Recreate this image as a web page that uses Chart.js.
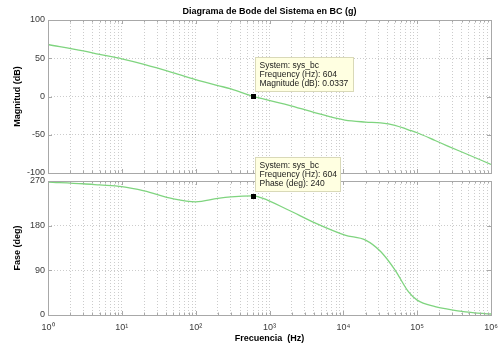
<!DOCTYPE html>
<html>
<head>
<meta charset="utf-8">
<script src="https://cdn.jsdelivr.net/npm/chart.js@4/dist/chart.umd.min.js"></script>
<style>
  html, body { margin: 0; padding: 0; background: #ffffff; }
  #wrap { position: relative; width: 498px; height: 347px; overflow: hidden; }
  #magCanvas { position: absolute; left: 0; top: 0; }
  #phaseCanvas { position: absolute; left: 0; top: 150px; }
</style>
</head>
<body>
<div id="wrap">
  <canvas id="magCanvas" width="498" height="180"></canvas>
  <canvas id="phaseCanvas" width="498" height="197"></canvas>
</div>
<script>
// ---- data ----
const freqHz = [1, 3, 5, 10, 20, 50, 100, 200, 300, 604, 800, 1800, 4200, 10500, 20000, 32000, 50000, 76000, 100000, 175000, 260000, 450000, 1000000];
const magnitudeDb = [68, 59.6, 55, 49.2, 42, 31, 22, 14.3, 10, 0.03, -2.8, -11.2, -21.3, -30.9, -33.4, -34.4, -37.6, -43.5, -47.4, -57.5, -64.8, -74.5, -88.7];
const phaseDeg = [268, 264.5, 262, 258.5, 250, 234, 228, 235, 238, 240, 235.5, 211.6, 185, 161, 151, 128, 91, 47, 30, 17, 12, 6.5, 2];

const magTicks = [-100, -50, 0, 50, 100];
const phaseTicks = [0, 90, 180, 270];
const decadeExponents = [0, 1, 2, 3, 4, 5, 6];

const tipFrequency = 604;
const tipMagnitude = 0.0337;
const tipPhase = 240;
const systemName = 'sys_bc';

const titleText = 'Diagrama de Bode del Sistema en BC (g)';
const magLabel = 'Magnitud (dB)';
const phaseLabel = 'Fase (deg)';
const freqLabel = 'Frecuencia  (Hz)';

// ---- helpers ----
const SUP = {'0':'\u2070','1':'\u00B9','2':'\u00B2','3':'\u00B3','4':'\u2074','5':'\u2075','6':'\u2076','-':'\u207B'};
function pow10Label(v) {
  const e = Math.log10(v);
  if (Math.abs(e - Math.round(e)) > 1e-9) return '';
  return '10' + String(Math.round(e)).split('').map(c => SUP[c]).join('');
}
function logTickList() {
  const out = [];
  for (let i = 0; i < decadeExponents.length - 1; i++) {
    const base = Math.pow(10, decadeExponents[i]);
    for (let k = 1; k <= 9; k++) out.push({ value: k * base });
  }
  out.push({ value: Math.pow(10, decadeExponents[decadeExponents.length - 1]) });
  return out;
}

const FONT = '"Liberation Sans", Arial, sans-serif';
const FRAME = '#a8a8a8';
const GRID = 'rgba(0,0,0,0.2)';
const LINE = '#7fd47f';

const framePlugin = {
  id: 'frame',
  afterDraw(chart) {
    const { ctx, chartArea: a, scales } = chart;
    ctx.save();
    ctx.strokeStyle = FRAME;
    ctx.lineWidth = 1;
    ctx.beginPath();
    scales.x.ticks.forEach(t => {
      const px = Math.round(scales.x.getPixelForValue(t.value)) + 0.5;
      const len = pow10Label(t.value) ? 4 : 2.5;
      ctx.moveTo(px, a.top); ctx.lineTo(px, a.top + len);
      ctx.moveTo(px, a.bottom); ctx.lineTo(px, a.bottom - len);
    });
    scales.y.ticks.forEach(t => {
      const py = Math.round(scales.y.getPixelForValue(t.value)) + 0.5;
      ctx.moveTo(a.left, py); ctx.lineTo(a.left + 4, py);
      ctx.moveTo(a.right, py); ctx.lineTo(a.right - 4, py);
    });
    ctx.stroke();
    ctx.strokeRect(Math.round(a.left) + 0.5, Math.round(a.top) + 0.5,
                   Math.round(a.right - a.left), Math.round(a.bottom - a.top));
    ctx.restore();
  }
};

function makeTipPlugin(yValue, lines, boxW) {
  return {
    id: 'datatip',
    afterDraw(chart) {
      const { ctx, scales } = chart;
      const mx = scales.x.getPixelForValue(tipFrequency);
      const my = scales.y.getPixelForValue(yValue);
      ctx.save();
      const bx = Math.round(mx) + 2.5, by = Math.round(my) - 38.5, bh = 34;
      ctx.fillStyle = '#ffffe1';
      ctx.fillRect(bx, by, boxW, bh);
      ctx.strokeStyle = '#d9d9b8';
      ctx.lineWidth = 1;
      ctx.strokeRect(bx, by, boxW, bh);
      ctx.fillStyle = '#1a1a1a';
      ctx.font = '8.5px ' + FONT;
      ctx.textBaseline = 'middle';
      ctx.textAlign = 'left';
      lines.forEach((s, i) => ctx.fillText(s, bx + 4, by + 8.5 + i * 9));
      ctx.fillStyle = '#000';
      ctx.fillRect(Math.round(mx) - 2, Math.round(my) - 2, 5, 5);
      ctx.restore();
    }
  };
}

function xScale(showLabels) {
  return {
    type: 'logarithmic',
    min: 1, max: 1e6,
    afterBuildTicks(scale) { scale.ticks = logTickList(); },
    afterFit(scale) {
      scale.height = showLabels ? 32 : 7;
      scale.paddingLeft = 0; scale.paddingRight = 0;
    },
    grid: { display: true, color: GRID, lineWidth: 1, drawTicks: false },
    border: { display: false, dash: [1, 2] },
    ticks: {
      display: showLabels,
      autoSkip: false, maxRotation: 0, minRotation: 0,
      padding: 7,
      color: '#3a3a3a',
      font: { family: FONT, size: 9 },
      callback: (v) => pow10Label(v)
    },
    title: showLabels ? {
      display: true, text: freqLabel, color: '#000',
      font: { family: FONT, size: 9, weight: 'bold' },
      padding: { top: 0, bottom: 3.5 }
    } : { display: false }
  };
}

function yScale(min, max, tickVals, label) {
  return {
    type: 'linear',
    min, max,
    afterBuildTicks(scale) { scale.ticks = tickVals.map(v => ({ value: v })); },
    afterFit(scale) { scale.width = 48; scale.paddingTop = 0; scale.paddingBottom = 0; },
    grid: { display: true, color: GRID, lineWidth: 1, drawTicks: false },
    border: { display: false, dash: [1, 2] },
    ticks: {
      padding: 3,
      color: '#3a3a3a',
      font: { family: FONT, size: 9 },
      callback: (v) => String(v)
    },
    title: {
      display: true, text: label, color: '#000',
      font: { family: FONT, size: 9, weight: 'bold' },
      padding: { top: 12.5, bottom: 0 }
    }
  };
}

const magPoints = freqHz.map((f, i) => ({ x: f, y: magnitudeDb[i] }));
const phasePoints = freqHz.map((f, i) => ({ x: f, y: phaseDeg[i] }));

new Chart(document.getElementById('magCanvas'), {
  type: 'line',
  data: { datasets: [{ label: 'sys_bc', data: magPoints, borderColor: LINE, borderWidth: 1.3,
          pointRadius: 0, cubicInterpolationMode: 'monotone', fill: false }] },
  options: {
    responsive: false, animation: false, devicePixelRatio: 1,
    layout: { padding: { left: 0, right: 7, top: 0, bottom: 0 } },
    plugins: {
      legend: { display: false }, tooltip: { enabled: false },
      title: { display: true, text: titleText, color: '#000', fullSize: false,
               font: { family: FONT, size: 9, weight: 'bold' },
               padding: { top: 6.5, bottom: 2.7 } }
    },
    scales: { x: xScale(false), y: yScale(-100, 100, magTicks, magLabel) }
  },
  plugins: [framePlugin, makeTipPlugin(tipMagnitude,
    ['System: ' + systemName, 'Frequency (Hz): ' + tipFrequency, 'Magnitude (dB): ' + tipMagnitude], 98)]
});

new Chart(document.getElementById('phaseCanvas'), {
  type: 'line',
  data: { datasets: [{ label: 'sys_bc', data: phasePoints, borderColor: LINE, borderWidth: 1.3,
          pointRadius: 0, cubicInterpolationMode: 'monotone', fill: false }] },
  options: {
    responsive: false, animation: false, devicePixelRatio: 1,
    layout: { padding: { left: 0, right: 7, top: 31, bottom: 0 } },
    plugins: { legend: { display: false }, tooltip: { enabled: false } },
    scales: { x: xScale(true), y: yScale(0, 270, phaseTicks, phaseLabel) }
  },
  plugins: [framePlugin, makeTipPlugin(tipPhase,
    ['System: ' + systemName, 'Frequency (Hz): ' + tipFrequency, 'Phase (deg): ' + tipPhase], 85)]
});
</script>
</body>
</html>
